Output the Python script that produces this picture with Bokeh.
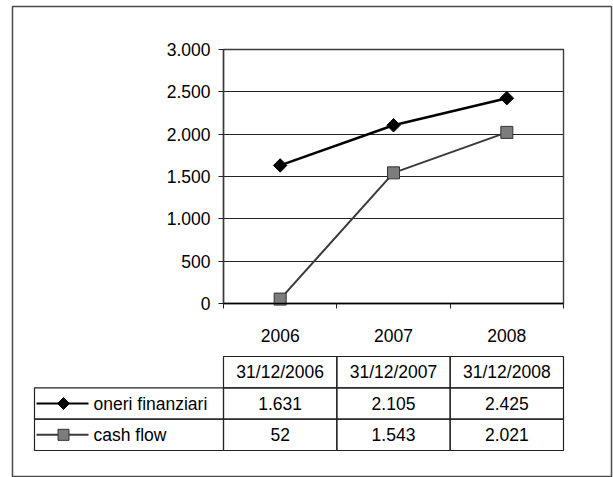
import math
from bokeh.plotting import figure
from bokeh.models import Range1d, LinearAxis, FixedTicker, Grid
from bokeh.core.properties import value
from bokeh.embed import file_html
from bokeh.resources import INLINE

# ---------------- data ----------------
years = ["2006", "2007", "2008"]
dates = ["31/12/2006", "31/12/2007", "31/12/2008"]
oneri = [1631, 2105, 2425]
cash = [52, 1543, 2021]
series_names = ["oneri finanziari", "cash flow"]
y_ticks = [0, 500, 1000, 1500, 2000, 2500, 3000]
y_tick_labels = ["0", "500", "1.000", "1.500", "2.000", "2.500", "3.000"]


def it_num(v):
    return f"{v:,}".replace(",", ".")


# ---------------- layout (pixels in the picture) ----------------
W, H = 613, 477
FL, FR, FT, FB = 12, 611, 6, 476      # outer box (frame) edges
PL, PR, PT, PB = 223, 563, 49, 303    # plot area
YMAX = 3000
ncat = len(years)
kx = (PR - PL) / ncat
ky = (PB - PT) / YMAX
x_start, x_end = (FL - PL) / kx, (FR - PL) / kx
y_start, y_end = -(FB - PB) / ky, YMAX + (PT - FT) / ky
ROW_H = 31.33
TABLE_BOTTOM = 450
t_start = -0.5 - (FB - TABLE_BOTTOM) / ROW_H
t_end = -0.5 + (TABLE_BOTTOM - FT) / ROW_H
LABEL_LEFT = (34 - PL) / kx
SAMPLE_X0, SAMPLE_X1, SAMPLE_XM = (36 - PL) / kx, (88 - PL) / kx, (63 - PL) / kx
NAME_X = (93 - PL) / kx

FONT_NAME = "Liberation Sans"
FONT = value(FONT_NAME)
FS = "17.5px"

p = figure(width=W, height=H,
           x_range=Range1d(x_start, x_end), y_range=Range1d(y_start, y_end),
           x_axis_type=None, y_axis_type=None,
           toolbar_location=None, output_backend="svg",
           min_border_left=FL, min_border_right=W - FR,
           min_border_top=FT, min_border_bottom=H - FB)
p.outline_line_color = "#4a4a4a"
p.outline_line_width = 1.5
p.background_fill_color = "white"
p.border_fill_color = "white"
p.extra_y_ranges = {"table": Range1d(t_start, t_end)}

# grid lines
grid = Grid(dimension=1, ticker=FixedTicker(ticks=y_ticks), bounds=(0, YMAX),
            cross_bounds=(0, ncat), grid_line_color="#222222", grid_line_width=1)
p.add_layout(grid)

# plot area border
p.quad(left=[0], right=[ncat], bottom=[0], top=[YMAX], fill_color=None,
       line_color="#3a3a3a", line_width=1.4)

# axes
yax = LinearAxis(fixed_location=0, bounds=(0, YMAX), ticker=FixedTicker(ticks=y_ticks),
                 major_label_overrides={t: l for t, l in zip(y_ticks, y_tick_labels)},
                 axis_line_color="#3a3a3a", axis_line_width=1.4,
                 major_tick_out=5, major_tick_in=0, major_tick_line_color="#222222",
                 minor_tick_line_color=None, major_label_standoff=8,
                 major_label_text_font=FONT_NAME, major_label_text_font_size=FS,
                 major_label_text_color="black")
p.add_layout(yax, "left")

xc = [i + 0.5 for i in range(ncat)]
bounds_ticks = [float(i) for i in range(ncat + 1)]
xax = LinearAxis(fixed_location=0, bounds=(0, ncat),
                 ticker=FixedTicker(ticks=xc, minor_ticks=bounds_ticks),
                 major_label_overrides={t: l for t, l in zip(xc, years)},
                 axis_line_color="black", axis_line_width=1.6,
                 major_tick_line_color=None, major_tick_out=0, major_tick_in=0,
                 minor_tick_out=5, minor_tick_in=0, minor_tick_line_color="#222222",
                 major_label_standoff=20,
                 major_label_text_font=FONT_NAME, major_label_text_font_size=FS,
                 major_label_text_color="black")
p.add_layout(xax, "below")

# series
p.line(x=xc, y=cash, line_color="#3a3a3a", line_width=2)
p.scatter(x=xc, y=cash, marker="square", size=12, fill_color="#7c7c7c",
          line_color="#333333", line_width=1)
p.line(x=xc, y=oneri, line_color="black", line_width=2.5)
p.scatter(x=xc, y=oneri, marker="square", angle=math.pi / 4, size=9.5,
          fill_color="black", line_color="black")

# data table
cell_line = dict(fill_color=None, line_color="#222222", line_width=1.2, y_range_name="table")
rows_y = [1, 0]
p.rect(x=xc, y=[2] * ncat, width=1, height=1, **cell_line)
for ry in rows_y:
    p.rect(x=xc, y=[ry] * ncat, width=1, height=1, **cell_line)
p.rect(x=[LABEL_LEFT / 2] * 2, y=rows_y, width=-LABEL_LEFT, height=1, **cell_line)

txt = dict(text_font=FONT, text_font_size=FS, text_color="black",
           text_baseline="middle", y_range_name="table")
p.text(x=xc, y=[2] * ncat, text=dates, text_align="center", **txt)
p.text(x=xc, y=[1] * ncat, text=[it_num(v) for v in oneri], text_align="center", **txt)
p.text(x=xc, y=[0] * ncat, text=[it_num(v) for v in cash], text_align="center", **txt)
p.text(x=[NAME_X] * 2, y=rows_y, text=series_names, text_align="left", **txt)

# legend samples inside the table
p.segment(x0=[SAMPLE_X0], y0=[1], x1=[SAMPLE_X1], y1=[1], line_color="black",
          line_width=2, y_range_name="table")
p.scatter(x=[SAMPLE_XM], y=[1], marker="square", angle=math.pi / 4, size=8.5,
          fill_color="black", line_color="black", y_range_name="table")
p.segment(x0=[SAMPLE_X0], y0=[0], x1=[SAMPLE_X1], y1=[0], line_color="#3a3a3a",
          line_width=2, y_range_name="table")
p.scatter(x=[SAMPLE_XM], y=[0], marker="square", size=11, fill_color="#7c7c7c",
          line_color="#333333", y_range_name="table")

open("out.html", "w").write(file_html(p, INLINE))
